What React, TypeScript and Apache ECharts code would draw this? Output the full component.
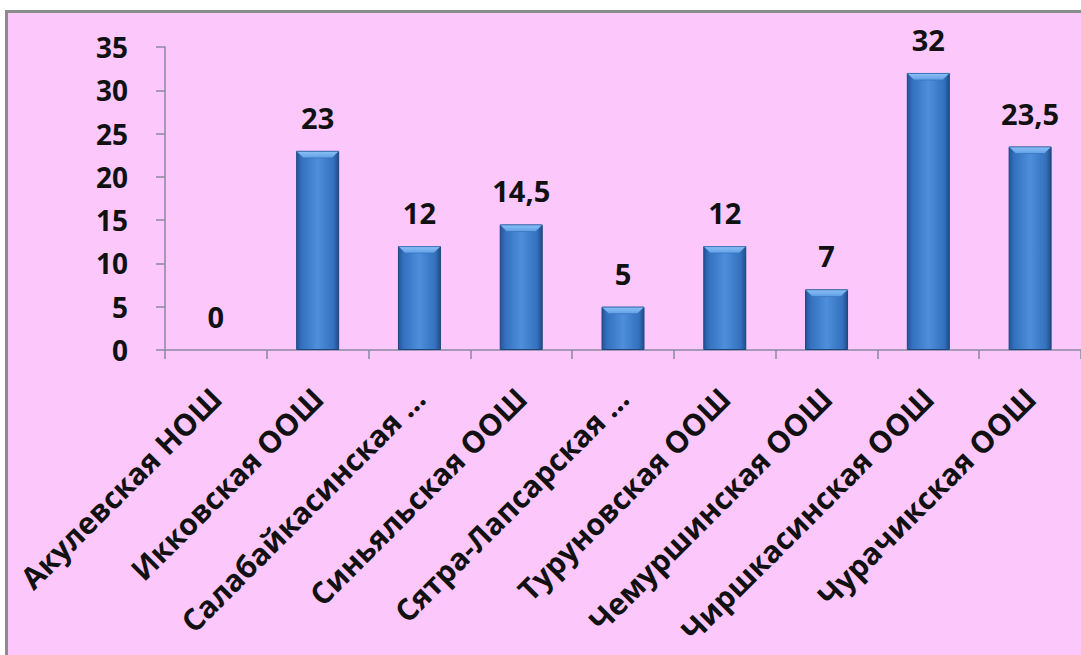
import React, { useEffect, useRef } from "react";
import * as echarts from "echarts";

const categories = [
  "Акулевская НОШ",
  "Икковская ООШ",
  "Салабайкасинская ...",
  "Синьяльская ООШ",
  "Сятра-Лапсарская ...",
  "Туруновская ООШ",
  "Чемуршинская ООШ",
  "Чиршкасинская ООШ",
  "Чурачикская ООШ",
];
const values = [0, 23, 12, 14.5, 5, 12, 7, 32, 23.5];
const yTicks = { min: 0, max: 35, interval: 5 };

const fmt = (v: number) => String(v).replace(".", ",");

export default function App() {
  const ref = useRef<HTMLDivElement>(null);
  useEffect(() => {
    if (!ref.current) return;
    const chart = echarts.init(ref.current, null, { renderer: "svg" });
    const barW = 43;
    chart.setOption({
      animation: false,
      textStyle: { fontFamily: "Open Sans" },
      grid: { left: 165, top: 47, height: 303, width: 927 },
      xAxis: {
        type: "category",
        data: categories,
        axisLine: { lineStyle: { color: "#8a8aa0", width: 1.5 } },
        axisTick: { show: true, interval: 0, length: 9, lineStyle: { color: "#8a8aa0", width: 1.5 } },
        axisLabel: {
          interval: 0,
          rotate: 45,
          margin: 43,
          color: "#111",
          fontWeight: "bold",
          fontSize: 30,
          fontFamily: "Open Sans",
        },
      },
      yAxis: {
        type: "value",
        min: yTicks.min,
        max: yTicks.max,
        interval: yTicks.interval,
        splitLine: { show: false },
        axisLine: { show: true, lineStyle: { color: "#8a8aa0", width: 1.5 } },
        axisTick: { show: true, length: 9, lineStyle: { color: "#8a8aa0", width: 1.5 } },
        axisLabel: {
          margin: 37,
          color: "#111",
          fontWeight: "bold",
          fontSize: 28,
          fontFamily: "Open Sans",
        },
      },
      series: [
        {
          type: "bar",
          data: values.map((v) =>
            v > 0 ? v : { value: v, itemStyle: { borderWidth: 0, color: "rgba(0,0,0,0)" } }
          ),
          barWidth: barW,
          itemStyle: {
            color: new echarts.graphic.LinearGradient(0, 0, 1, 0, [
              { offset: 0, color: "#24559a" },
              { offset: 0.12, color: "#3470bd" },
              { offset: 0.5, color: "#4d8fdc" },
              { offset: 0.88, color: "#3470bd" },
              { offset: 1, color: "#204c88" },
            ]),
            borderColor: "#1d467e",
            borderWidth: 1,
          },
          label: {
            show: true,
            position: "top",
            distance: 19,
            color: "#111",
            fontWeight: "bold",
            fontSize: 29,
            fontFamily: "Open Sans",
            formatter: (p: any) => fmt(p.value),
          },
        },
        {
          type: "custom",
          data: values.map((v, i) => [i, v]),
          silent: true,
          z: 5,
          renderItem: (params: any, api: any) => {
            const v = api.value(1);
            if (v <= 0) return null;
            const pt = api.coord([api.value(0), v]);
            const x = pt[0];
            const y = pt[1];
            const h = barW / 2;
            const b = 7;
            return {
              type: "polygon",
              shape: {
                points: [
                  [x - h + 0.5, y + 0.5],
                  [x + h - 0.5, y + 0.5],
                  [x + h - b, y + b],
                  [x - h + b, y + b],
                ],
              },
              style: {
                fill: new echarts.graphic.LinearGradient(0, 0, 0, 1, [
                  { offset: 0, color: "#8cc0f5" },
                  { offset: 1, color: "#5f9fe6" },
                ]),
                stroke: "#3b74bb",
                lineWidth: 0.8,
              },
            };
          },
        },
      ],
    });
    return () => chart.dispose();
  }, []);

  return (
    <div
      style={{
        position: "fixed",
        left: 0,
        top: 0,
        width: 1081,
        height: 655,
        background: "#ffffff",
        overflow: "hidden",
      }}
    >
      <div
        style={{
          position: "absolute",
          left: 5,
          top: 10,
          right: 0,
          bottom: 0,
          background: "#fcc8fc",
          borderLeft: "3px solid #8c8c8c",
          borderTop: "3px solid #8c8c8c",
        }}
      />
      <div ref={ref} style={{ position: "absolute", left: 0, top: 0, width: 1081, height: 655 }} />
    </div>
  );
}
